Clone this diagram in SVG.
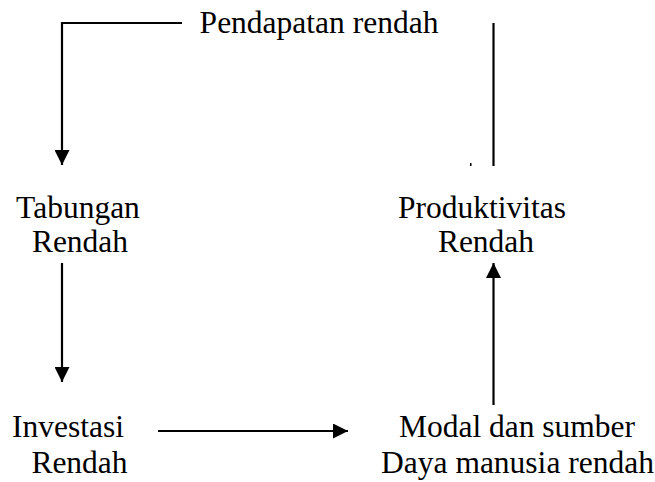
<svg xmlns="http://www.w3.org/2000/svg" width="655" height="482" viewBox="0 0 655 482">
  <style>
    text { font-family: 'Liberation Serif', 'Times New Roman', Times, serif; font-size: 31.5px; fill: #000; text-anchor: middle; }
    .edge { fill: none; stroke: #000; stroke-width: 2.2; }
  </style>
  <defs>
    <marker id="arr" markerUnits="userSpaceOnUse" markerWidth="15" markerHeight="15" refX="15" refY="7.5" orient="auto">
      <path d="M0,0 L15,7.5 L0,15 z" fill="#000"/>
    </marker>
  </defs>
  <rect width="655" height="482" fill="#fff"/>
  <g id="connectors">
    <path class="edge" d="M182,23 H62 V165" marker-end="url(#arr)"/>
    <path class="edge" d="M62,263 V382" marker-end="url(#arr)"/>
    <path class="edge" d="M158,431 H348" marker-end="url(#arr)"/>
    <path class="edge" d="M493.5,405 V263" marker-end="url(#arr)"/>
    <path class="edge" d="M493.5,23 V166"/>
    <rect x="470" y="163" width="1.5" height="3" fill="#000"/>
  </g>
  <g id="pendapatan">
    <text x="319" y="33">Pendapatan rendah</text>
  </g>
  <g id="tabungan">
    <text x="78" y="218">Tabungan</text>
    <text x="80" y="252">Rendah</text>
  </g>
  <g id="produktivitas">
    <text x="482" y="218">Produktivitas</text>
    <text x="486" y="252">Rendah</text>
  </g>
  <g id="investasi">
    <text x="68" y="437">Investasi</text>
    <text x="79.5" y="473">Rendah</text>
  </g>
  <g id="modal">
    <text x="517" y="437">Modal dan sumber</text>
    <text x="517.5" y="473">Daya manusia rendah</text>
  </g>
</svg>
